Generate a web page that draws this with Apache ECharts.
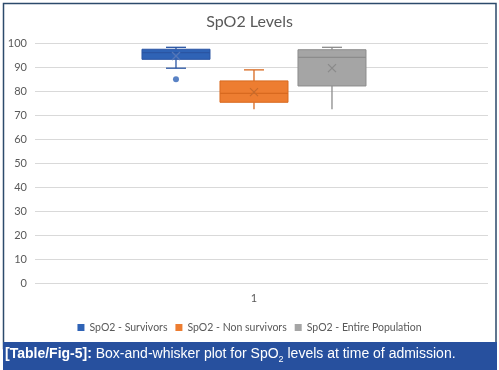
<!DOCTYPE html>
<html><head><meta charset="utf-8">
<script src="https://cdn.jsdelivr.net/npm/echarts@6/dist/echarts.min.js"></script>
<style>html,body{margin:0;padding:0;background:#fff}#c{width:499px;height:370px}</style>
</head><body><div id="c"></div>
<script>
const categories = ['1'];
const seriesNames = ['SpO2 - Survivors', 'SpO2 - Non survivors', 'SpO2 - Entire Population'];
// [min, Q1, median, Q3, max]
const survivors = [89.5, 93.2, 96.0, 97.4, 98.2];
const nonSurvivors = [72.4, 75.3, 79.0, 84.2, 88.8];
const entirePopulation = [72.4, 82.1, 94.0, 97.2, 98.2];
const means = [94.6, 79.5, 89.5];
const survivorOutliers = [84.9];
const yTicks = [0, 10, 20, 30, 40, 50, 60, 70, 80, 90, 100];

const fills = ['#2f63b6', '#ed7d31', '#a5a5a5'];
const strokes = ['#2a55a3', '#d8691f', '#8c8c8c'];
const meanColors = ['#5577b8', '#c76a2c', '#8a8a8a'];
const offsets = [-78, 0, 78];
const boxW = 68, capW = 20;
const bottomCap = [true, false, false];
const stats = [survivors, nonSurvivors, entirePopulation];

function makeRender(si) {
  return function (params, api) {
    const x = api.value(0);
    const px = api.coord([x, 0])[0] + offsets[si];
    const y = i => api.coord([x, api.value(i)])[1];
    const yMin = y(1), yQ1 = y(2), yMed = y(3), yQ3 = y(4), yMax = y(5), yMean = y(6);
    const ls = { stroke: strokes[si], lineWidth: 1.3 };
    const ch = [
      { type: 'line', shape: { x1: px, y1: yMax, x2: px, y2: yQ3 }, style: ls },
      { type: 'line', shape: { x1: px, y1: yQ1, x2: px, y2: yMin }, style: ls },
      { type: 'line', shape: { x1: px - capW / 2, y1: yMax, x2: px + capW / 2, y2: yMax }, style: ls },
      { type: 'rect', shape: { x: px - boxW / 2, y: yQ3, width: boxW, height: yQ1 - yQ3 }, style: { fill: fills[si], stroke: strokes[si], lineWidth: 1 } },
      { type: 'line', shape: { x1: px - boxW / 2, y1: yMed, x2: px + boxW / 2, y2: yMed }, style: ls },
      { type: 'line', shape: { x1: px - 4, y1: yMean - 4, x2: px + 4, y2: yMean + 4 }, style: { stroke: meanColors[si], lineWidth: 1.2 } },
      { type: 'line', shape: { x1: px - 4, y1: yMean + 4, x2: px + 4, y2: yMean - 4 }, style: { stroke: meanColors[si], lineWidth: 1.2 } }
    ];
    if (bottomCap[si]) ch.push({ type: 'line', shape: { x1: px - capW / 2, y1: yMin, x2: px + capW / 2, y2: yMin }, style: ls });
    return { type: 'group', children: ch };
  };
}

const series = seriesNames.map((n, si) => ({
  name: n,
  type: 'custom',
  itemStyle: { color: fills[si] },
  renderItem: makeRender(si),
  data: [[Number(categories[0])].concat(stats[si], [means[si]])],
  encode: { x: 0, y: [1, 2, 3, 4, 5, 6] }
}));
series.push({
  name: seriesNames[0],
  type: 'scatter',
  symbol: 'circle',
  symbolSize: 6,
  symbolOffset: [offsets[0], 0],
  itemStyle: { color: fills[0] },
  data: survivorOutliers.map(v => [Number(categories[0]), v]),
  silent: true
});

const chart = echarts.init(document.getElementById('c'), null, { renderer: 'canvas' });
chart.setOption({
  animation: false,
  title: { text: 'SpO2 Levels', left: 'center', top: 9, textStyle: { fontFamily: 'Lato', fontSize: 16, fontWeight: 'normal', color: '#595959' } },
  legend: {
    data: seriesNames, top: 317, left: 'center', icon: 'rect', itemWidth: 7, itemHeight: 7, itemGap: 8,
    textStyle: { fontFamily: 'Lato', fontSize: 10.5, color: '#595959' }
  },
  grid: { left: 35, right: 11, top: 43, bottom: 87 },
  xAxis: {
    type: 'value', min: 0.5, max: 1.5343, interval: 0.5,
    axisLine: { show: false }, axisTick: { show: false }, splitLine: { show: false },
    axisLabel: { showMaxLabel: false, showMinLabel: false, formatter: v => (v === 1 ? categories[0] : ''), margin: 10, fontFamily: 'Lato', fontSize: 11, color: '#595959' }
  },
  yAxis: {
    type: 'value', min: yTicks[0], max: yTicks[yTicks.length - 1], interval: 10,
    axisLine: { show: false }, axisTick: { show: false },
    splitLine: { lineStyle: { color: '#d9d9d9', width: 1 } },
    axisLabel: { margin: 8, fontFamily: 'Lato', fontSize: 11, color: '#595959' }
  },
  series: series,
  graphic: [
    { type: 'rect', shape: { x: 3.5, y: 3.5, width: 492.5, height: 345 }, style: { fill: 'none', stroke: '#2c4a6b', lineWidth: 1.5 }, z: 100 },
    { type: 'rect', shape: { x: 3, y: 342, width: 494, height: 28 }, style: { fill: '#27509e' }, z: 101 },
    {
      type: 'text', x: 5, y: 347, z: 102,
      style: {
        text: '{b|[Table/Fig-5]:}{n| Box-and-whisker plot for SpO}{s|2}{n| levels at time of admission.}',
        rich: {
          b: { fontFamily: 'Liberation Sans', fontSize: 14, fontWeight: 'bold', fill: '#fff', lineHeight: 17, verticalAlign: 'top' },
          n: { fontFamily: 'Liberation Sans', fontSize: 14, fill: '#fff', lineHeight: 17, verticalAlign: 'top' },
          s: { fontFamily: 'Liberation Sans', fontSize: 9, fill: '#fff', lineHeight: 17, verticalAlign: 'bottom', padding: [7, 0, 0, 0] }
        }
      }
    }
  ]
});
</script></body></html>
